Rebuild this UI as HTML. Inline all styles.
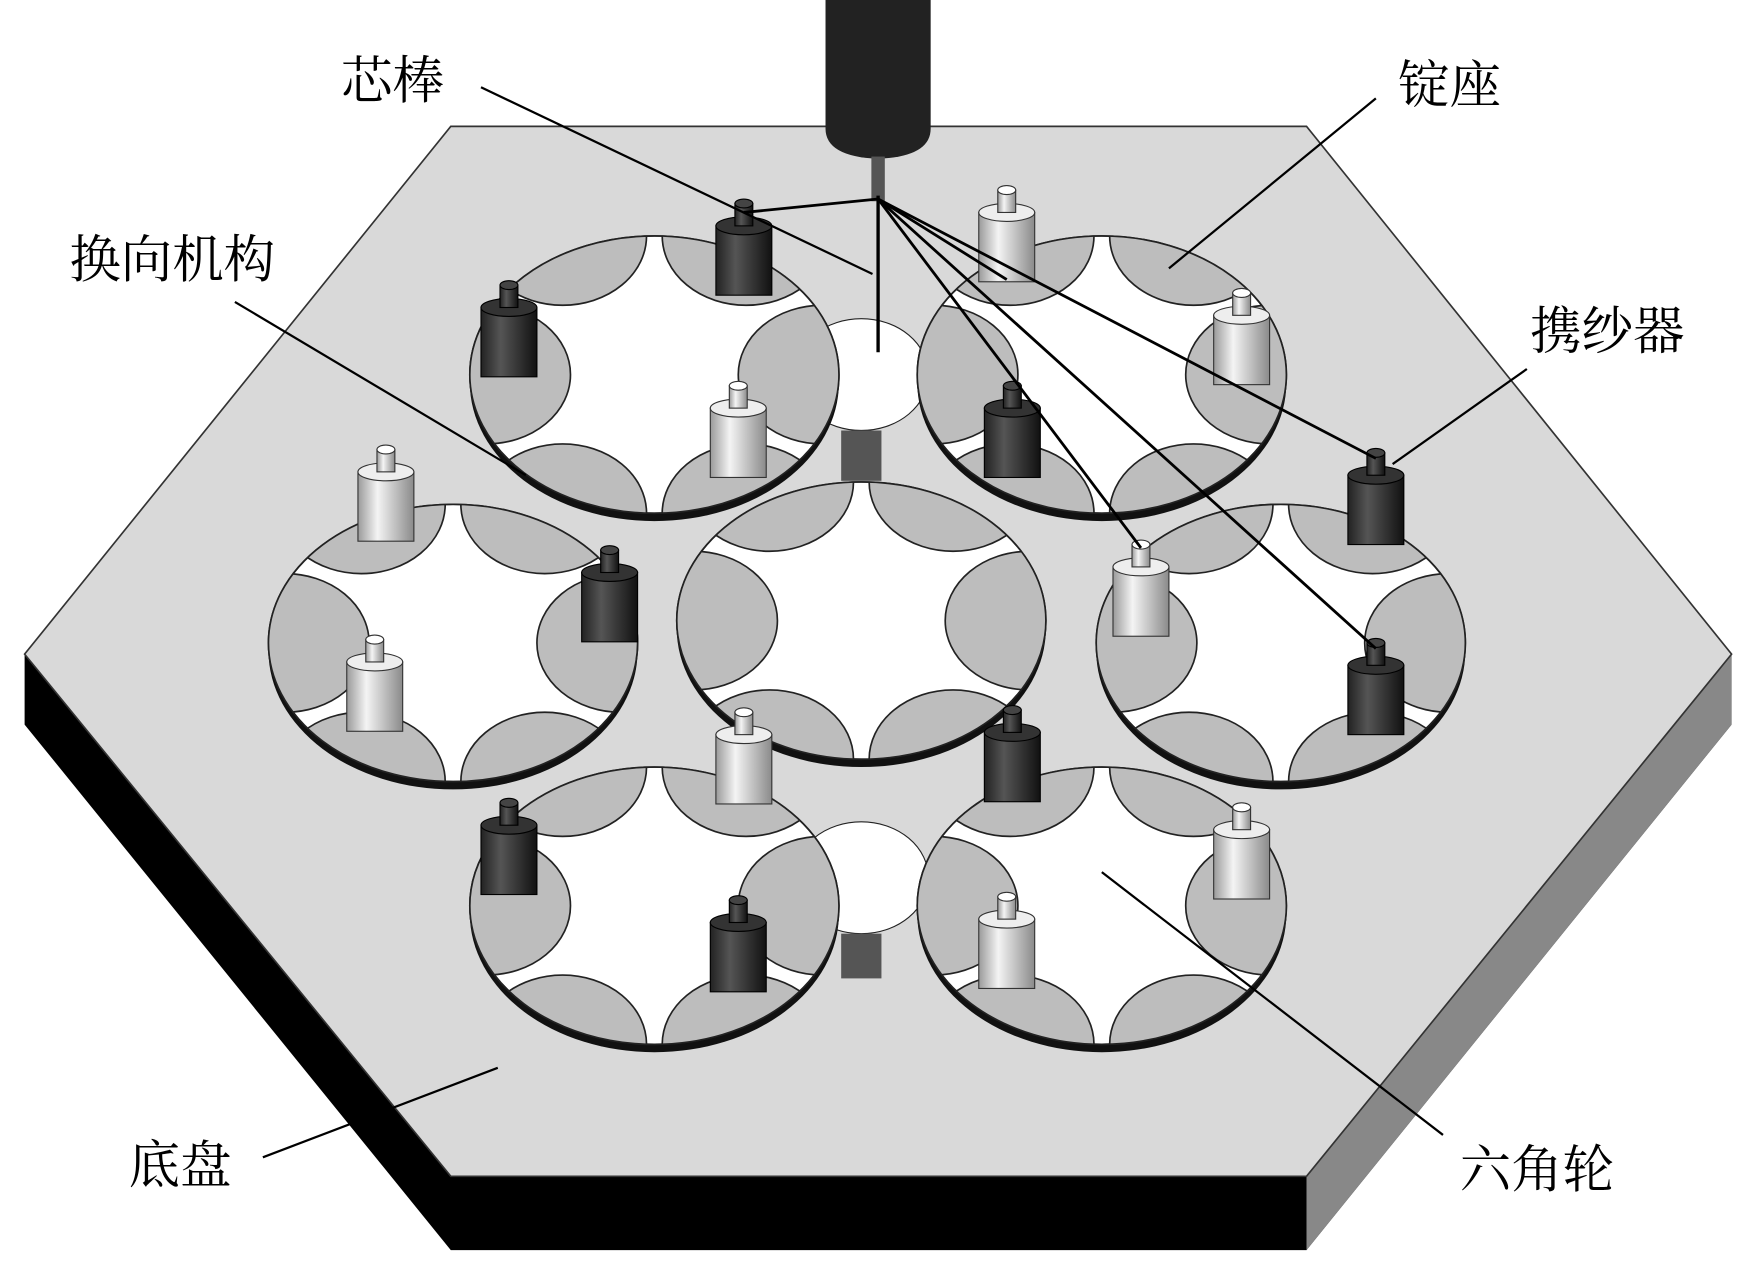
<!DOCTYPE html>
<html><head><meta charset="utf-8"><style>
html,body{margin:0;padding:0;background:#fff;}
svg{display:block;}
text{font-family:"Liberation Serif","Noto Serif CJK SC","Noto Sans CJK SC",serif;font-size:46px;fill:#000;}
</style></head><body>
<svg width="1745" height="1268" viewBox="0 0 1560 1134" preserveAspectRatio="none" xmlns="http://www.w3.org/2000/svg">
<defs>
<linearGradient id="wc" x1="0" x2="1"><stop offset="0" stop-color="#9a9a9a"/><stop offset="0.35" stop-color="#f4f4f4"/><stop offset="1" stop-color="#8a8a8a"/></linearGradient>
<linearGradient id="dc" x1="0" x2="1"><stop offset="0" stop-color="#222"/><stop offset="0.35" stop-color="#555"/><stop offset="1" stop-color="#111"/></linearGradient>
<clipPath id="wclip"><ellipse cx="0" cy="0" rx="165" ry="124"/></clipPath>
<g id="wheel">
<ellipse cx="0" cy="7" rx="165" ry="124" fill="#111"/>
<ellipse cx="0" cy="0" rx="165" ry="124" fill="#fff" stroke="#222" stroke-width="1.5"/>
<g clip-path="url(#wclip)" fill="#bdbdbd" stroke="#222" stroke-width="1.5">
<ellipse cx="-150" cy="0" rx="75" ry="62"/>
<ellipse cx="150" cy="0" rx="75" ry="62"/>
<ellipse cx="-82" cy="-124" rx="75" ry="62"/>
<ellipse cx="82" cy="-124" rx="75" ry="62"/>
<ellipse cx="-82" cy="124" rx="75" ry="62"/>
<ellipse cx="82" cy="124" rx="75" ry="62"/>
</g>
<ellipse cx="0" cy="0" rx="165" ry="124" fill="none" stroke="#222" stroke-width="1.5"/>
</g>
<g id="wcar"><rect x="-25" y="20" width="50" height="62" fill="url(#wc)" stroke="#333"/><ellipse cx="0" cy="20" rx="25" ry="8" fill="#eee" stroke="#333"/><rect x="-8" y="0" width="16" height="20" fill="url(#wc)" stroke="#333"/><ellipse cx="0" cy="0" rx="8" ry="4" fill="#fff" stroke="#333"/></g>
<g id="dcar"><rect x="-25" y="20" width="50" height="62" fill="url(#dc)" stroke="#000"/><ellipse cx="0" cy="20" rx="25" ry="8" fill="#333" stroke="#000"/><rect x="-8" y="0" width="16" height="20" fill="url(#dc)" stroke="#000"/><ellipse cx="0" cy="0" rx="8" ry="4" fill="#444" stroke="#000"/></g>
</defs>
<polygon points="22,585 22,648 403,1118 1168,1118 1548,648 1548,585 1168,1052 403,1052" fill="#000"/>
<polygon points="1168,1052 1548,585 1548,648 1168,1118" fill="#888"/>
<polygon points="403,113 1168,113 1548,585 1168,1052 403,1052 22,585" fill="#d9d9d9" stroke="#333" stroke-width="1.5"/>
<ellipse cx="770" cy="335" rx="60" ry="50" fill="#fff" stroke="#222"/>
<ellipse cx="770" cy="785" rx="60" ry="50" fill="#fff" stroke="#222"/>
<rect x="752" y="385" width="36" height="45" fill="#555"/>
<rect x="752" y="835" width="36" height="40" fill="#555"/>
<use href="#wheel" x="585" y="335"/>
<use href="#wheel" x="985" y="335"/>
<use href="#wheel" x="405" y="575"/>
<use href="#wheel" x="1145" y="575"/>
<use href="#wheel" x="770" y="555"/>
<use href="#wheel" x="585" y="810"/>
<use href="#wheel" x="985" y="810"/>
<use href="#wcar" x="900" y="170"/>
<use href="#wcar" x="1110" y="262"/>
<use href="#wcar" x="660" y="345"/>
<use href="#wcar" x="345" y="402"/>
<use href="#wcar" x="1020" y="487"/>
<use href="#wcar" x="335" y="572"/>
<use href="#wcar" x="665" y="637"/>
<use href="#wcar" x="1110" y="722"/>
<use href="#wcar" x="900" y="802"/>
<use href="#dcar" x="665" y="182"/>
<use href="#dcar" x="455" y="255"/>
<use href="#dcar" x="545" y="492"/>
<use href="#dcar" x="905" y="345"/>
<use href="#dcar" x="1230" y="405"/>
<use href="#dcar" x="1230" y="575"/>
<use href="#dcar" x="905" y="635"/>
<use href="#dcar" x="455" y="718"/>
<use href="#dcar" x="660" y="805"/>
<path d="M738,0 H832 V115 Q832,140 785,142 Q738,140 738,115 Z" fill="#222"/>
<rect x="779" y="140" width="12" height="40" fill="#555"/>
<line x1="785" y1="175" x2="785" y2="315" stroke="#000" stroke-width="3"/>
<g stroke="#000" stroke-width="2.5" fill="none">
<line x1="785" y1="178" x2="1230" y2="410"/>
<line x1="785" y1="178" x2="1230" y2="580"/>
<line x1="785" y1="178" x2="1020" y2="490"/>
<line x1="785" y1="178" x2="900" y2="250"/>
<line x1="785" y1="178" x2="665" y2="190"/>
</g>
<g stroke="#000" stroke-width="2">
<line x1="430" y1="78" x2="780" y2="245"/>
<line x1="1230" y1="88" x2="1045" y2="240"/>
<line x1="210" y1="270" x2="470" y2="425"/>
<line x1="1365" y1="330" x2="1245" y2="415"/>
<line x1="235" y1="1035" x2="445" y2="955"/>
<line x1="1290" y1="1015" x2="985" y2="780"/>
</g>
<text x="305" y="88">芯棒</text>
<text x="1250" y="92">锭座</text>
<text x="62" y="248">换向机构</text>
<text x="1368" y="312">携纱器</text>
<text x="115" y="1058">底盘</text>
<text x="1305" y="1062">六角轮</text>
</svg>
</body></html>
